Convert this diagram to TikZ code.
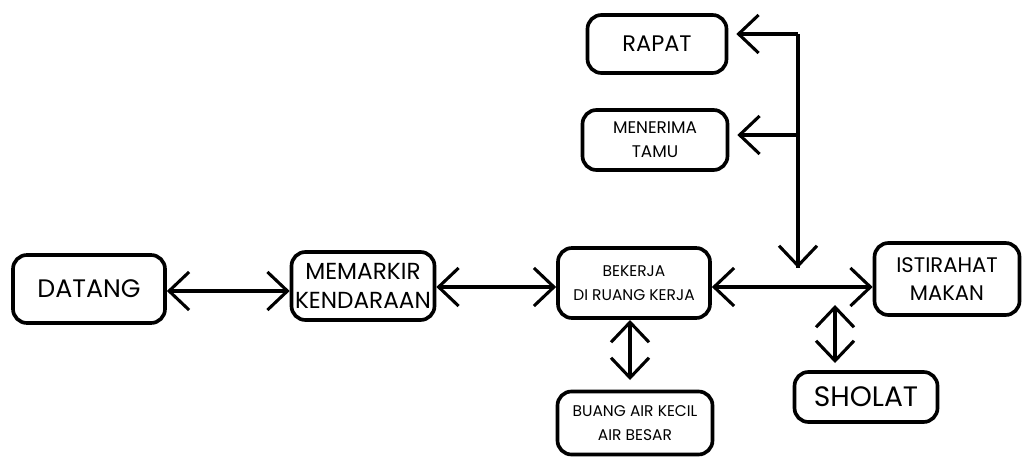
\documentclass[tikz,border=0pt]{standalone}
\usepackage{fontspec}
\setmainfont{Poppins}
\usetikzlibrary{arrows.meta}
\begin{document}
\begin{tikzpicture}
        \tikzstyle{box_style} = [draw=black, line width=2.6pt, rounded corners=0.35cm, align=center, inner sep=1pt]
        \tikzstyle{link_style} = [line width=2.2pt, {Straight Barb[length=0.5cm,width=0.95cm]}-{Straight Barb[length=0.5cm,width=0.95cm]}]
        \tikzstyle{down_style} = [line width=2.2pt, -{Straight Barb[length=0.5cm,width=0.95cm]}]
        \useasboundingbox (0,0) rectangle (25.7,-11.525);
        % boxes
        \node[box_style, minimum width=3.8cm, minimum height=1.7cm, font=\fontsize{18}{20}\selectfont] (datang) at (2.225,-7.225) {DATANG};
        \node[box_style, minimum width=3.575cm, minimum height=1.7cm, font=\fontsize{16.5}{21}\selectfont] (memarkir) at (9.075,-7.15) {MEMARKIR\\KENDARAAN};
        \node[box_style, minimum width=3.8cm, minimum height=1.75cm, font=\fontsize{11}{17}\selectfont] (bekerja) at (15.85,-7.075) {BEKERJA\\DI RUANG KERJA};
        \node[box_style, minimum width=3.625cm, minimum height=1.8cm, font=\fontsize{15}{20}\selectfont] (istirahat) at (23.675,-6.975) {ISTIRAHAT\\MAKAN};
        \node[box_style, minimum width=3.475cm, minimum height=1.45cm, font=\fontsize{16}{18}\selectfont] (rapat) at (16.425,-1.1) {RAPAT};
        \node[box_style, minimum width=3.625cm, minimum height=1.5cm, font=\fontsize{12}{17}\selectfont] (tamu) at (16.375,-3.5) {MENERIMA\\TAMU};
        \node[box_style, minimum width=3.575cm, minimum height=1.25cm, font=\fontsize{20}{22}\selectfont] (sholat) at (21.65,-9.925) {SHOLAT};
        \node[box_style, minimum width=3.875cm, minimum height=1.575cm, font=\fontsize{11}{17}\selectfont] (buang) at (15.875,-10.575) {BUANG AIR KECIL\\AIR BESAR};
        % free ends
        \coordinate (top) at (19.95,-0.85);
        \coordinate (mid) at (19.95,-3.375);
        \coordinate (down) at (19.95,-6.7);
        \coordinate (sholat_top) at (20.875,-7.625);
        \coordinate (sholat_end) at (20.875,-9.075);
        \coordinate (buang_top) at (15.75,-8.0);
        \coordinate (buang_end) at (15.75,-9.5);
        % connectors
        \draw[link_style] ([yshift=-0.05cm]datang.east) -- ([yshift=-0.05cm]datang.east -| memarkir.west);
        \draw[link_style] ([yshift=-0.025cm]memarkir.east) -- ([yshift=-0.025cm]memarkir.east -| bekerja.west);
        \draw[link_style] ([yshift=-0.1cm]bekerja.east) -- ([yshift=-0.1cm]bekerja.east -| istirahat.west);
        \draw[line width=2.2pt] (top) -- (down);
        \draw[down_style] (top) -- ([xshift=0.2cm]top -| rapat.east);
        \draw[down_style] (mid) -- ([xshift=0.2cm]mid -| tamu.east);
        \draw[down_style] (mid) -- (down);
        \draw[link_style] (sholat_top) -- (sholat_end);
        \draw[link_style] (buang_top) -- (buang_end);
\end{tikzpicture}
\end{document}
